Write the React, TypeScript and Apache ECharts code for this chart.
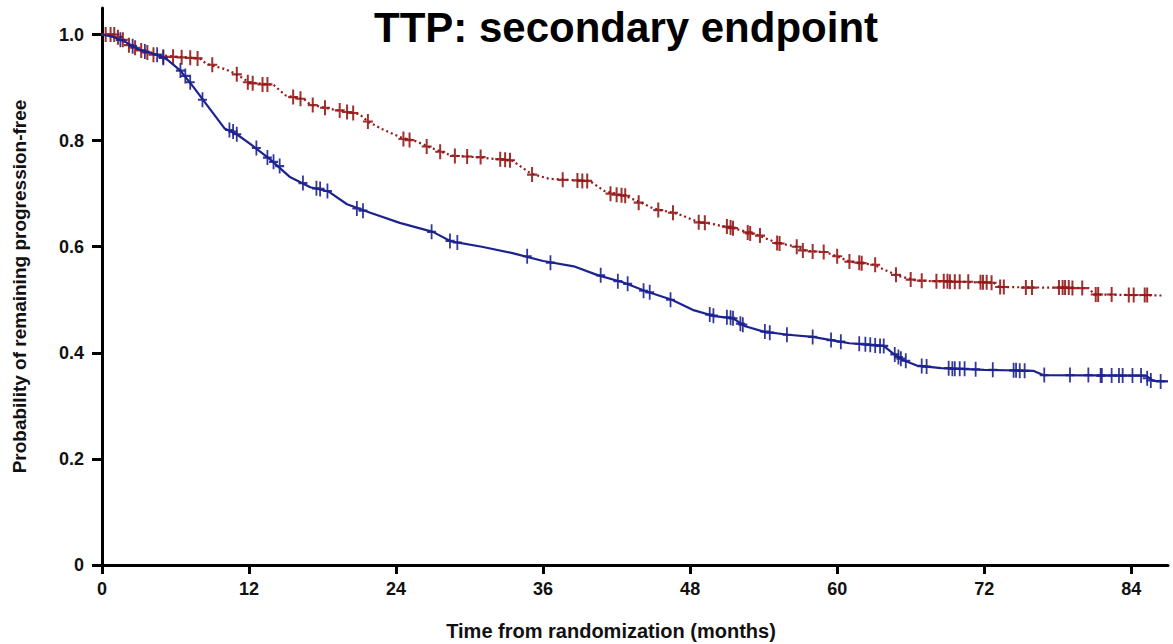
import React, { useEffect, useRef } from "react";
import * as echarts from "echarts";

const xTicks = [0, 12, 24, 36, 48, 60, 72, 84];
const yTicks = [0, 0.2, 0.4, 0.6, 0.8, 1.0];

const redCurve: [number, number][] = [
  [0, 1.0], [1.5, 1.0], [2, 0.985], [2.5, 0.975], [3, 0.97], [4.5, 0.962], [6, 0.958], [8, 0.955],
  [8.5, 0.945], [10, 0.935], [11, 0.925], [12, 0.91], [14, 0.905], [15, 0.885], [16.5, 0.878],
  [17, 0.868], [19, 0.858], [21, 0.85], [21.7, 0.836], [23, 0.82], [24.5, 0.805], [25.5, 0.8],
  [27, 0.785], [28.5, 0.772], [31, 0.768], [33.5, 0.762], [35, 0.738], [36.5, 0.728], [39.8, 0.724],
  [41, 0.705], [42.8, 0.695], [44, 0.683], [45, 0.672], [47, 0.662], [48.5, 0.648], [50, 0.642],
  [52, 0.632], [53.5, 0.622], [55, 0.608], [56.7, 0.6], [57.5, 0.592], [59, 0.59], [60, 0.582],
  [61, 0.572], [63, 0.566], [64, 0.555], [65, 0.545], [66.5, 0.536], [72.8, 0.532], [73.2, 0.524],
  [80.5, 0.522], [81, 0.51], [86.5, 0.508],
];

const redCensored: [number, number][] = [
  [0.3, 1.0], [0.7, 1.0], [1.0, 1.0], [1.3, 0.995], [1.7, 0.99], [2.2, 0.98], [2.7, 0.975], [3.2, 0.97],
  [3.7, 0.966], [4.2, 0.962], [5.0, 0.958], [5.8, 0.958], [6.5, 0.957], [7.2, 0.956], [7.8, 0.955],
  [9.0, 0.943], [11.0, 0.925], [11.9, 0.91], [12.3, 0.908], [13.1, 0.906], [13.5, 0.906],
  [15.6, 0.882], [16.2, 0.879], [17.2, 0.867], [18.2, 0.862], [19.4, 0.857], [20.0, 0.854],
  [20.5, 0.852], [21.7, 0.836], [24.6, 0.803], [25.1, 0.801], [26.5, 0.789], [27.6, 0.779],
  [28.8, 0.771], [29.8, 0.77], [30.9, 0.769], [32.5, 0.765], [32.9, 0.764], [33.3, 0.763],
  [35.1, 0.736], [37.6, 0.726], [38.8, 0.725], [39.2, 0.724], [39.6, 0.724], [41.5, 0.7],
  [42.0, 0.698], [42.4, 0.697], [42.7, 0.696], [43.8, 0.683], [45.4, 0.669], [46.6, 0.664],
  [48.7, 0.646], [49.2, 0.645], [51.0, 0.638], [51.3, 0.636], [51.5, 0.635], [52.7, 0.627],
  [52.9, 0.625], [53.7, 0.621], [55.1, 0.607], [55.3, 0.606], [56.7, 0.6], [57.2, 0.593],
  [58.0, 0.591], [58.9, 0.59], [60.0, 0.582], [61.0, 0.572], [61.8, 0.57], [62.0, 0.569],
  [63.1, 0.566], [64.8, 0.547], [66.0, 0.538], [66.9, 0.536], [68.1, 0.535], [68.7, 0.535],
  [69.0, 0.535], [69.2, 0.534], [69.6, 0.534], [70.0, 0.534], [70.7, 0.534], [71.7, 0.533],
  [71.9, 0.533], [72.2, 0.533], [72.6, 0.532], [73.3, 0.524], [73.6, 0.524], [75.4, 0.523],
  [75.9, 0.523], [78.1, 0.523], [78.4, 0.523], [78.6, 0.523], [78.9, 0.523], [79.2, 0.522],
  [80.0, 0.522], [81.1, 0.51], [81.3, 0.51], [82.4, 0.51], [83.8, 0.509], [84.2, 0.509],
  [85.1, 0.509], [85.3, 0.509],
];

const blueCurve: [number, number][] = [
  [0, 1.0], [1, 0.995], [2, 0.985], [3, 0.972], [4.5, 0.962], [5.3, 0.953], [6.4, 0.932],
  [7.5, 0.9], [8.8, 0.86], [10, 0.823], [11, 0.812], [12.2, 0.792], [13.7, 0.765], [15.3, 0.732],
  [17, 0.712], [18.5, 0.704], [20, 0.68], [21.9, 0.664], [24.3, 0.645], [27, 0.628], [28.5, 0.61],
  [31, 0.6], [33.5, 0.588], [36, 0.573], [38.5, 0.563], [40.5, 0.546], [42.5, 0.533], [44.5, 0.515],
  [46.5, 0.5], [48.2, 0.481], [50, 0.469], [51.5, 0.465], [52.5, 0.45], [54, 0.44], [56, 0.434],
  [58, 0.43], [59.5, 0.424], [61, 0.418], [63.8, 0.413], [64.5, 0.4], [65.3, 0.387], [66.5, 0.376],
  [68.5, 0.371], [72, 0.368], [76, 0.366], [76.8, 0.358], [85.2, 0.357], [85.8, 0.347], [87, 0.346],
];

const blueCensored: [number, number][] = [
  [1.5, 0.99], [2.5, 0.978], [3.5, 0.968], [4.5, 0.962], [5.0, 0.956], [6.4, 0.932], [6.8, 0.922],
  [7.2, 0.91], [8.2, 0.877], [10.4, 0.82], [10.7, 0.817], [11.0, 0.812], [12.6, 0.786], [13.5, 0.768],
  [14.0, 0.76], [14.5, 0.752], [16.4, 0.72], [17.5, 0.71], [17.8, 0.709], [18.4, 0.705], [20.8, 0.672],
  [21.3, 0.668], [26.9, 0.628], [28.4, 0.611], [29.0, 0.608], [34.7, 0.582], [36.6, 0.57],
  [40.7, 0.546], [42.1, 0.535], [42.9, 0.53], [44.2, 0.517], [44.7, 0.514], [46.4, 0.5],
  [49.6, 0.472], [49.9, 0.47], [51.0, 0.467], [51.3, 0.466], [51.5, 0.465], [52.1, 0.455],
  [52.3, 0.453], [54.1, 0.44], [54.5, 0.438], [55.9, 0.434], [58.0, 0.43], [59.5, 0.424],
  [60.3, 0.421], [61.8, 0.417], [62.3, 0.416], [62.7, 0.415], [63.1, 0.414], [63.5, 0.413],
  [63.8, 0.413], [64.7, 0.397], [65.0, 0.392], [65.2, 0.389], [65.6, 0.385], [66.9, 0.375],
  [67.3, 0.374], [69.1, 0.371], [69.4, 0.37], [69.6, 0.37], [70.0, 0.37], [70.4, 0.37],
  [71.3, 0.369], [72.7, 0.368], [74.4, 0.367], [74.6, 0.367], [74.9, 0.366], [75.3, 0.366],
  [76.9, 0.358], [79.0, 0.358], [80.5, 0.358], [81.5, 0.357], [81.6, 0.357], [82.4, 0.357],
  [83.0, 0.357], [83.3, 0.357], [84.1, 0.357], [84.8, 0.357], [85.3, 0.352], [85.6, 0.348],
  [86.4, 0.346],
];

const RED = "#961818";
const BLUE = "#1c2290";
const PLUS = "path://M4,0H6V6H10V8H6V14H4V8H0V6H4Z";
const FONT = "Liberation Sans, Arial, sans-serif";

export default function App() {
  const ref = useRef<HTMLDivElement>(null);
  useEffect(() => {
    if (!ref.current) return;
    const chart = echarts.init(ref.current, null, { renderer: "svg" });
    const bold = { fontFamily: FONT, fontWeight: "bold" as const, color: "#111" };
    chart.setOption({
      animation: false,
      backgroundColor: "#fff",
      title: {
        text: "TTP: secondary endpoint",
        left: 369,
        top: 1,
        textStyle: { ...bold, fontSize: 42, color: "#000" },
      },
      graphic: [
        {
          type: "text",
          x: 611,
          y: 631,
          style: {
            text: "Time from randomization (months)",
            font: `bold 20px ${FONT}`,
            fill: "#111",
            textAlign: "center",
            textVerticalAlign: "middle",
          },
        },
      ],
      grid: { left: 102, right: 5, top: 8, bottom: 79, containLabel: false },
      xAxis: {
        type: "value",
        min: 0,
        max: 87,
        axisLine: { show: true, onZero: false, lineStyle: { color: "#000", width: 3 } },
        axisTick: { show: true, length: 9, customValues: xTicks, lineStyle: { color: "#000", width: 3 } },
        axisLabel: { ...bold, fontSize: 18, margin: 15, customValues: xTicks },
        splitLine: { show: false },
      },
      yAxis: {
        type: "value",
        min: 0,
        max: 1.05,
        name: "Probability of remaining progression-free",
        nameLocation: "middle",
        nameGap: 73,
        nameTextStyle: { ...bold, fontSize: 19 },
        axisLine: { show: true, onZero: false, lineStyle: { color: "#000", width: 3 } },
        axisTick: { show: true, length: 10, customValues: yTicks, lineStyle: { color: "#000", width: 3 } },
        axisLabel: {
          ...bold,
          fontSize: 18,
          margin: 18,
          customValues: yTicks,
          formatter: (v: number) => (v === 0 ? "0" : v.toFixed(1)),
        },
        splitLine: { show: false },
      },
      series: [
        {
          type: "line",
          data: redCurve,
          showSymbol: false,
          lineStyle: { color: RED, width: 2.2, type: [2, 3] },
          z: 2,
        },
        {
          type: "scatter",
          data: redCensored,
          symbol: PLUS,
          symbolSize: [10, 15],
          itemStyle: { color: RED, opacity: 0.9 },
          z: 3,
        },
        {
          type: "line",
          data: blueCurve,
          showSymbol: false,
          lineStyle: { color: BLUE, width: 2.2 },
          z: 4,
        },
        {
          type: "scatter",
          data: blueCensored,
          symbol: PLUS,
          symbolSize: [9, 15],
          itemStyle: { color: BLUE, opacity: 0.9 },
          z: 5,
        },
      ],
    });
    return () => chart.dispose();
  }, []);
  return <div ref={ref} style={{ width: 1173, height: 644, position: "fixed", left: 0, top: 0 }} />;
}
